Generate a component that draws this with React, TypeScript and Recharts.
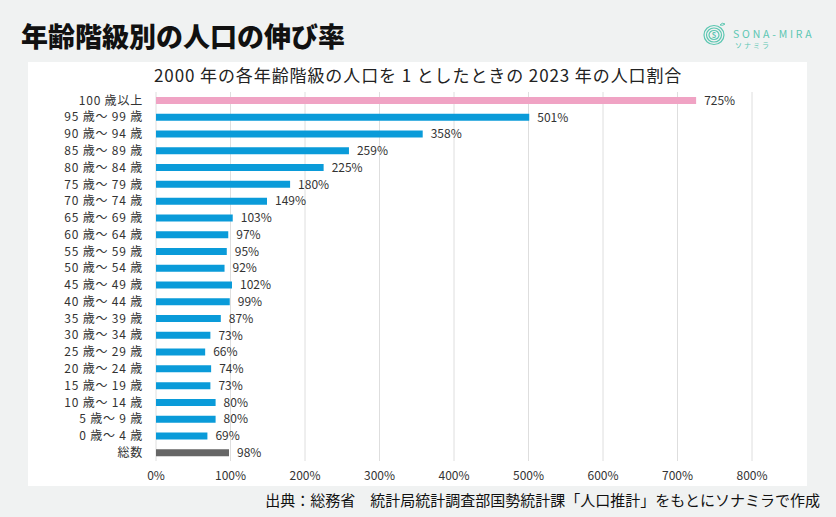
import React from "react";
import { BarChart, Bar, XAxis, YAxis, CartesianGrid, Cell, LabelList } from "recharts";

const categories = [
  "100 歳以上", "95 歳～ 99 歳", "90 歳～ 94 歳", "85 歳～ 89 歳", "80 歳～ 84 歳",
  "75 歳～ 79 歳", "70 歳～ 74 歳", "65 歳～ 69 歳", "60 歳～ 64 歳", "55 歳～ 59 歳",
  "50 歳～ 54 歳", "45 歳～ 49 歳", "40 歳～ 44 歳", "35 歳～ 39 歳", "30 歳～ 34 歳",
  "25 歳～ 29 歳", "20 歳～ 24 歳", "15 歳～ 19 歳", "10 歳～ 14 歳", "5 歳～ 9 歳",
  "0 歳～ 4 歳", "総数",
];
const values = [725, 501, 358, 259, 225, 180, 149, 103, 97, 95, 92, 102, 99, 87, 73, 66, 74, 73, 80, 80, 69, 98];
const xTicks = [0, 100, 200, 300, 400, 500, 600, 700, 800];

const PINK = "#f0a3c4";
const BLUE = "#0a9bd9";
const GRAY = "#666666";

const data = categories.map((name, i) => ({ name, value: values[i] }));
const FONT = "'Noto Sans CJK JP', 'Noto Sans', sans-serif";
const TEAL = "#5cc7b2";

function Logo() {
  return (
    <div style={{ position: "absolute", left: 700, top: 20, width: 130, height: 32 }}>
      <svg width={30} height={30} style={{ position: "absolute", left: 0, top: 0 }}>
        {[10, 7.5, 5].map((r, i) => (
          <ellipse key={i} cx={14} cy={15} rx={r} ry={r - 0.5} fill="none" stroke={TEAL} strokeWidth={1.2} />
        ))}
        <text x={14} y={18} fontSize={7} textAnchor="middle" fill={TEAL} fontFamily={FONT} fontWeight={700}>S</text>
        <path d="M20 5 q2 -3 5 -1 q-2 2 -5 1" stroke={TEAL} fill="none" strokeWidth={1} />
      </svg>
      <div style={{ position: "absolute", left: 33, top: 7, fontFamily: FONT, fontSize: 10.5, letterSpacing: 2.8, color: TEAL, whiteSpace: "nowrap", lineHeight: "14px" }}>SONA-MIRA</div>
      <div style={{ position: "absolute", left: 35, top: 20, fontFamily: FONT, fontSize: 7, letterSpacing: 2, color: TEAL, whiteSpace: "nowrap", lineHeight: "10px" }}>ソナミラ</div>
    </div>
  );
}

export default function App() {
  return (
    <div style={{ position: "fixed", left: 0, top: 0, width: 836, height: 517, background: "#f0f2f2", overflow: "hidden", fontFamily: FONT }}>
      <div style={{ position: "absolute", left: 21, top: 17, fontSize: 27, fontWeight: 900, color: "#111", whiteSpace: "nowrap", lineHeight: "38px" }}>
        年齢階級別の人口の伸び率
      </div>
      <Logo />
      <div style={{ position: "absolute", left: 28, top: 62, width: 779, height: 424, background: "#ffffff" }} />
      <div style={{ position: "absolute", left: 154, top: 63, fontSize: 17, letterSpacing: 0.9, color: "#222", whiteSpace: "nowrap", lineHeight: "24px" }}>
        2000 年の各年齢階級の人口を 1 としたときの 2023 年の人口割合
      </div>
      <div style={{ position: "absolute", right: 16, top: 489, fontSize: 15, color: "#111", whiteSpace: "nowrap", lineHeight: "22px" }}>
        出典：総務省　統計局統計調査部国勢統計課「人口推計」をもとにソナミラで作成
      </div>
      <div style={{ position: "absolute", left: 0, top: 0 }}>
        <BarChart
          width={836}
          height={517}
          data={data}
          layout="vertical"
          margin={{ top: 92, right: 84, bottom: 26, left: 28 }}
          barCategoryGap={0}
        >
          <CartesianGrid horizontal={false} vertical={true} stroke="#dedede" />
          <XAxis
            type="number"
            domain={[0, 800]}
            ticks={xTicks}
            tickFormatter={(v: number) => `${v}%`}
            axisLine={false}
            tickLine={false}
            height={30}
            tick={{ fontSize: 12, fill: "#333", fontFamily: FONT }}
            tickMargin={4}
          />
          <YAxis
            type="category"
            dataKey="name"
            width={128}
            axisLine={false}
            tickLine={false}
            interval={0}
            tick={{ fontSize: 12, fill: "#333", fontFamily: FONT, letterSpacing: 0.8 }}
            tickMargin={7}
          />
          <Bar dataKey="value" barSize={7} isAnimationActive={false}>
            {data.map((d, i) => (
              <Cell key={i} fill={i === 0 ? PINK : i === data.length - 1 ? GRAY : BLUE} />
            ))}
            <LabelList
              dataKey="value"
              position="right"
              offset={8}
              formatter={(v: number) => `${v}%`}
              style={{ fontSize: 12, fill: "#333", fontFamily: FONT }}
            />
          </Bar>
        </BarChart>
      </div>
    </div>
  );
}
